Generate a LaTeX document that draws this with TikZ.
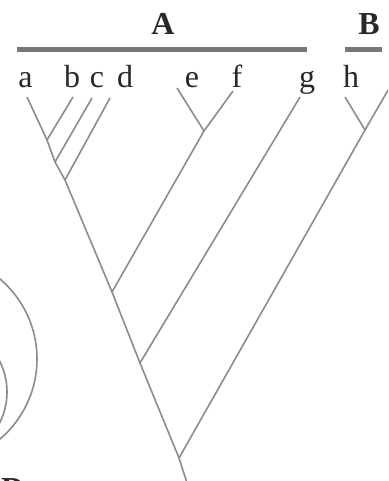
\documentclass[tikz,border=0pt]{standalone}
\usepackage{fontspec}
\setmainfont{Liberation Serif}
\definecolor{branch}{RGB}{140,140,140}
\definecolor{barcol}{RGB}{120,120,120}
\definecolor{txt}{RGB}{40,40,40}
\begin{document}
\begin{tikzpicture}[x=1pt,y=-1pt,
  edge/.style={draw=branch,line width=1.6pt},
  groupbar/.style={draw=barcol,line width=5pt},
  leaf/.style={anchor=base,inner sep=0pt,text=txt,font=\fontsize{32}{36}\selectfont},
  grp/.style={anchor=base,inner sep=0pt,text=txt,font=\fontsize{32}{36}\selectfont\bfseries},
  ring/.style={draw=branch,line width=1.6pt}]
\clip (0,0) rectangle (388,481);
\fill[white] (0,0) rectangle (388,481);
% group labels and bars
\node[grp] (A) at (163,35) {A};
\node[grp] (B) at (369,35) {B};
\node[grp,anchor=base west] (D) at (1,499) {D};
\coordinate (a1) at (17,50); \coordinate (a2) at (307,50);
\coordinate (b1) at (345,50); \coordinate (b2) at (382,50);
\draw[groupbar] (a1) -- (a2);
\draw[groupbar] (b1) -- (b2);
% leaf labels
\node[leaf] (la) at (25.5,88) {a};
\node[leaf] (lb) at (72,88) {b};
\node[leaf] (lc) at (97,88) {c};
\node[leaf] (ld) at (125,88) {d};
\node[leaf] (le) at (192,88) {e};
\node[leaf] (lf) at (237,88) {f};
\node[leaf] (lg) at (307,88) {g};
\node[leaf] (lh) at (351,88) {h};
% tips
\coordinate (ta) at (27,97);
\coordinate (tb) at (73,97);
\coordinate (tc) at (92,98);
\coordinate (td) at (110,98);
\coordinate (te) at (177,88);
\coordinate (tf) at (233,91);
\coordinate (tg) at (300,97);
\coordinate (th) at (345,97);
\coordinate (ti) at (391,85);
% joins
\coordinate (j1) at (47,140);
\coordinate (j2) at (55,162);
\coordinate (j3) at (65,180);
\coordinate (jef) at (204,131);
\coordinate (j4) at (112,292);
\coordinate (j5) at (140,363);
\coordinate (jh) at (365,130);
\coordinate (j6) at (179,458);
\coordinate (root) at (188,486);
% branches
\draw[edge] (ta) -- (j1) -- (j2) -- (j3) -- (j4) -- (j5) -- (j6) -- (root);
\draw[edge] (tb) -- (j1);
\draw[edge] (tc) -- (j2);
\draw[edge] (td) -- (j3);
\draw[edge] (te) -- (jef);
\draw[edge] (tf) -- (jef) -- (j4);
\draw[edge] (tg) -- (j5);
\draw[edge] (th) -- (jh);
\draw[edge] (ti) -- (jh) -- (j6);
% nested rings at the left edge
\coordinate (c1) at (-68,359);
\coordinate (c2) at (-61,392);
\draw[ring] (c1) circle[radius=105];
\draw[ring] (c2) circle[radius=68];
\end{tikzpicture}
\end{document}
